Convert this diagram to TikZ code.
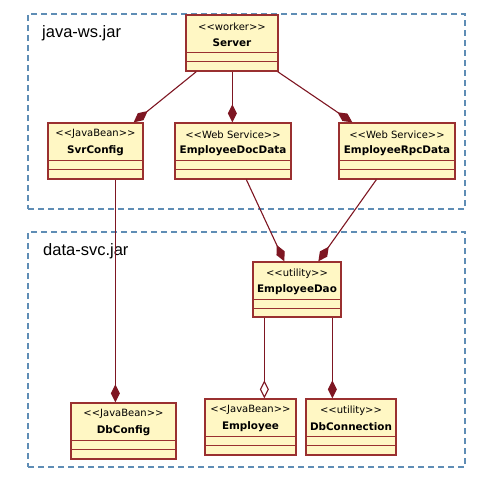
\documentclass[tikz,border=0pt]{standalone}
\usepackage{fontspec}
\newfontfamily\umlfont{DejaVu Sans}
\newfontfamily\lblfont{Liberation Sans}
\usetikzlibrary{arrows.meta,calc,fit}
\definecolor{boxfill}{HTML}{FFF7C4}
\definecolor{boxline}{HTML}{9A3030}
\definecolor{conn}{HTML}{7E1622}
\definecolor{pkgcol}{HTML}{5F8DB5}
\tikzset{
  cls/.style={draw=boxline, fill=boxfill, line width=1.3pt, inner sep=0pt},
  sepline/.style={draw=boxline, line width=1.1pt},
  ster/.style={font=\umlfont\fontsize{10}{12}\selectfont, inner sep=0pt, anchor=center},
  cname/.style={font=\umlfont\bfseries\fontsize{10.4}{12}\selectfont, inner sep=0pt, anchor=center},
  pkgbox/.style={draw=pkgcol, line width=1.3pt, dash pattern=on 6pt off 4pt, inner sep=0pt},
  pkglabel/.style={font=\lblfont\fontsize{16.5}{18}\selectfont, inner sep=0pt, anchor=base west},
  comp/.style={draw=conn, line width=1.1pt, -{Diamond[length=18pt,width=9pt,fill=conn]}},
  aggr/.style={draw=conn, line width=1.1pt, -{Diamond[length=18pt,width=9pt,fill=white]}},
}
\newcommand\umlclass[7]{%
  \node[cls, fit={(#2,#3) (#4,#5)}] (#1) {};
  \draw[sepline] ([yshift=-38.5pt]#1.north west) -- ([yshift=-38.5pt]#1.north east);
  \draw[sepline] ([yshift=-47.5pt]#1.north west) -- ([yshift=-47.5pt]#1.north east);
  \node[ster] (#1s) at ([yshift=-12pt]#1.north) {<<#6>>};
  \node[cname] (#1n) at ([yshift=-28pt]#1.north) {#7};
}
\begin{document}
\begin{tikzpicture}[x=1pt, y=-1pt]
\useasboundingbox (0,0) rectangle (494,486);
% packages
\node[pkgbox, fit={(28,14) (465,209)}] (pkgA) {};
\node[pkgbox, fit={(28,232) (465,467)}] (pkgB) {};
\node[pkglabel] (lblA) at (42,38) {java-ws.jar};
\node[pkglabel] (lblB) at (43,255) {data-svc.jar};
% classes
\umlclass{srv}{186}{15}{278}{71}{worker}{Server}
\umlclass{svr}{48}{123}{143}{179}{JavaBean}{SvrConfig}
\umlclass{doc}{175}{123}{291}{179}{Web Service}{EmployeeDocData}
\umlclass{rpc}{339}{123}{455}{179}{Web Service}{EmployeeRpcData}
\umlclass{dao}{253}{262}{341}{317}{utility}{EmployeeDao}
\umlclass{dbc}{71}{403}{176}{459}{JavaBean}{DbConfig}
\umlclass{emp}{205}{399}{296}{455}{JavaBean}{Employee}
\umlclass{dbn}{306}{399}{396}{455}{utility}{DbConnection}
% connectors
\draw[comp] ($(srv.south west)+(11,0)$) -- ($(svr.north east)+(-10,0)$);
\draw[comp] ($(srv.south west)+(47,0)$) -- ($(doc.north west)+(58,0)$);
\draw[comp] ($(srv.south east)+(-1,0)$) -- ($(rpc.north west)+(14,0)$);
\draw[comp] ($(svr.south west)+(68,0)$) -- ($(dbc.north west)+(45,0)$);
\draw[comp] ($(doc.south west)+(72,0)$) -- ($(dao.north west)+(32,0)$);
\draw[comp] ($(rpc.south west)+(38,0)$) -- ($(dao.north west)+(66,0)$);
\draw[aggr] ($(dao.south west)+(12,0)$) -- ($(emp.north west)+(60,0)$);
\draw[comp] ($(dao.south west)+(80,0)$) -- ($(dbn.north west)+(27,0)$);
\end{tikzpicture}
\end{document}
